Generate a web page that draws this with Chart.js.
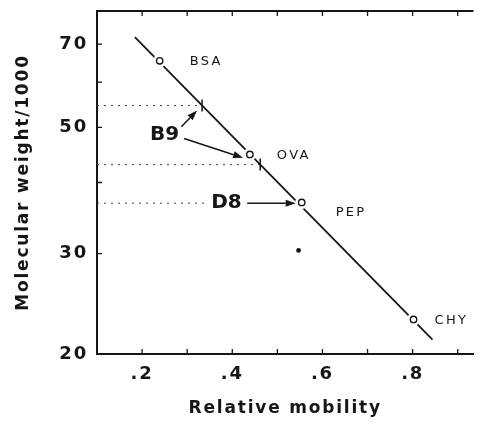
<!DOCTYPE html>
<html>
<head>
<meta charset="utf-8">
<script src="https://cdn.jsdelivr.net/npm/chart.js@4/dist/chart.umd.min.js"></script>
<style>
  html, body { margin: 0; padding: 0; background: #fff; }
</style>
</head>
<body>
<canvas id="c" width="481" height="434"></canvas>
<script>
// marker proteins (open circles)
const standards = ["BSA", "OVA", "PEP", "CHY"];
const standardMobility = [0.239, 0.439, 0.554, 0.802];
const standardWeight = [65.4, 44.8, 36.9, 23.0];

// fitted calibration line (ends)
const fitMobility = [0.184, 0.844];
const fitWeight = [72, 21.2];

// B9 bands
const b9Mobility = [0.333, 0.462];
const b9Weight = [54.6, 43.0];

// D8 band
const d8Mobility = [0.554];
const d8Weight = [36.8];

// stray spot
const spotMobility = [0.547];
const spotWeight = [30.4];

const xTicks = [0.1, 0.2, 0.3, 0.4, 0.5, 0.6, 0.7, 0.8, 0.9];
const xLabels = ["", ".2", "", ".4", "", ".6", "", ".8", ""];
const yTicks = [20, 30, 40, 50, 60, 70, 80];
const yLabels = ["20", "30", "", "50", "", "70", ""];

const INK = "#161616";
const pts = (xs, ys) => xs.map((x, i) => ({ x, y: ys[i] }));

// dotted guides from the axis to the bands
const guide = (xEnd, yVal) => ({
    data: [{ x: 0.1, y: yVal }, { x: xEnd, y: yVal }],
    showLine: true,
    borderColor: "#444",
    borderWidth: 1,
    borderDash: [2, 5],
    pointRadius: 0,
    order: 3,
});

function arrow(ctx, x0, y0, x1, y1) {
    const ang = Math.atan2(y1 - y0, x1 - x0);
    const len = 10, half = 3.5;
    const bx = x1 - len * Math.cos(ang), by = y1 - len * Math.sin(ang);
    ctx.beginPath();
    ctx.moveTo(x0, y0);
    ctx.lineTo(bx, by);
    ctx.stroke();
    ctx.beginPath();
    ctx.moveTo(x1, y1);
    ctx.lineTo(bx + half * Math.sin(ang), by - half * Math.cos(ang));
    ctx.lineTo(bx - half * Math.sin(ang), by + half * Math.cos(ang));
    ctx.closePath();
    ctx.fill();
}

const framePlugin = {
    id: "frame",
    beforeDraw(chart) {
        chart.ctx.letterSpacing = "1.8px";
    },
    afterDraw(chart) {
        const { ctx, chartArea: a, scales: { x, y } } = chart;
        ctx.save();
        ctx.letterSpacing = "0px";
        ctx.strokeStyle = INK;
        ctx.fillStyle = INK;
        ctx.lineWidth = 2;
        ctx.beginPath();
        ctx.moveTo(a.left - 1, a.top);
        ctx.lineTo(a.right, a.top);
        ctx.stroke();
        ctx.lineWidth = 1.3;
        ctx.beginPath();
        xTicks.forEach((v) => {
            const px = x.getPixelForValue(v);
            ctx.moveTo(px, a.bottom);
            ctx.lineTo(px, a.bottom - 5);
            ctx.moveTo(px, a.top);
            ctx.lineTo(px, a.top + 5);
        });
        yTicks.forEach((v) => {
            const py = y.getPixelForValue(v);
            ctx.moveTo(a.left, py);
            ctx.lineTo(a.left + 5, py);
        });
        ctx.stroke();

        // protein names
        ctx.font = "13px 'DejaVu Sans'";
        ctx.letterSpacing = "2.3px";
        ctx.textAlign = "left";
        ctx.textBaseline = "middle";
        standards.forEach((name, i) => {
            const px = x.getPixelForValue(standardMobility[i]);
            const py = y.getPixelForValue(standardWeight[i]);
            const off = [[30, 1], [27, 1], [34, 10], [21, 1]][i];
            ctx.fillText(name, px + off[0], py + off[1]);
        });

        // band labels and arrows
        ctx.font = "bold 20px 'DejaVu Sans'";
        ctx.letterSpacing = "0px";
        ctx.textAlign = "center";
        ctx.fillText("B9", x.getPixelForValue(0.25), y.getPixelForValue(48.6));
        ctx.fillText("D8", x.getPixelForValue(0.387), y.getPixelForValue(d8Weight[0]));
        ctx.lineWidth = 1.5;
        arrow(ctx, x.getPixelForValue(0.287), y.getPixelForValue(50.1),
            x.getPixelForValue(b9Mobility[0]) - 5, y.getPixelForValue(b9Weight[0]) + 5);
        arrow(ctx, x.getPixelForValue(0.293), y.getPixelForValue(47.8),
            x.getPixelForValue(0.424), y.getPixelForValue(44.2));
        arrow(ctx, x.getPixelForValue(0.433), y.getPixelForValue(d8Weight[0]),
            x.getPixelForValue(d8Mobility[0]) - 6, y.getPixelForValue(d8Weight[0]));
        ctx.restore();
    },
};

new Chart(document.getElementById("c"), {
    type: "scatter",
    data: {
        datasets: [
            {
                data: pts(standardMobility, standardWeight),
                pointRadius: 3.2,
                pointBackgroundColor: "#fff",
                pointBorderColor: INK,
                pointBorderWidth: 1.4,
                order: 0,
            },
            {
                data: pts(spotMobility, spotWeight),
                pointRadius: 2.4,
                pointBackgroundColor: INK,
                pointBorderWidth: 0,
                order: 0,
            },
            {
                data: pts(b9Mobility, b9Weight),
                pointStyle: "line",
                rotation: 90,
                pointRadius: 6,
                pointBorderColor: INK,
                pointBorderWidth: 1.5,
                order: 0,
            },
            {
                // white halo that breaks the line around each circle
                data: pts(standardMobility, standardWeight),
                pointRadius: 6.5,
                pointBackgroundColor: "#fff",
                pointBorderWidth: 0,
                order: 1,
            },
            {
                data: pts(fitMobility, fitWeight),
                showLine: true,
                borderColor: INK,
                borderWidth: 1.8,
                pointRadius: 0,
                order: 2,
            },
            guide(b9Mobility[0], b9Weight[0]),
            guide(b9Mobility[1], b9Weight[1]),
            guide(0.339, d8Weight[0]),
        ],
    },
    options: {
        responsive: false,
        animation: false,
        devicePixelRatio: 1,
        layout: { padding: { top: 11, right: 0, left: 0, bottom: 0 } },
        plugins: { legend: { display: false }, tooltip: { enabled: false } },
        scales: {
            x: {
                type: "linear",
                min: 0.1,
                max: 0.935,
                afterBuildTicks: (s) => { s.ticks = xTicks.map((v) => ({ value: v })); },
                afterFit: (s) => {
                    s.height = 80;
                    s.paddingLeft = 0;
                    s.paddingRight = 0;
                },
                grid: { display: true, drawOnChartArea: false, drawTicks: false },
                border: { color: INK, width: 2 },
                ticks: {
                    autoSkip: false,
                    maxRotation: 0,
                    padding: 10,
                    color: INK,
                    font: { family: "DejaVu Sans", size: 18, weight: "bold" },
                    callback: (v, i) => xLabels[i],
                },
                title: {
                    display: true,
                    text: "Relative mobility",
                    color: INK,
                    font: { family: "DejaVu Sans", size: 17, weight: "bold" },
                    padding: { top: 0, bottom: 15 },
                },
            },
            y: {
                type: "logarithmic",
                min: 20,
                max: 80,
                afterBuildTicks: (s) => { s.ticks = yTicks.map((v) => ({ value: v })); },
                afterFit: (s) => {
                    s.width = 97;
                    s.paddingTop = 0;
                    s.paddingBottom = 0;
                },
                grid: { display: true, drawOnChartArea: false, drawTicks: false },
                border: { color: INK, width: 2 },
                ticks: {
                    autoSkip: false,
                    padding: 9,
                    color: INK,
                    font: { family: "DejaVu Sans", size: 18, weight: "bold" },
                    callback: (v, i) => yLabels[i],
                },
                title: {
                    display: true,
                    text: "Molecular weight/1000",
                    color: INK,
                    font: { family: "DejaVu Sans", size: 17, weight: "bold" },
                    padding: { top: 13, bottom: 0 },
                },
            },
        },
    },
    plugins: [framePlugin],
});
</script>
</body>
</html>
